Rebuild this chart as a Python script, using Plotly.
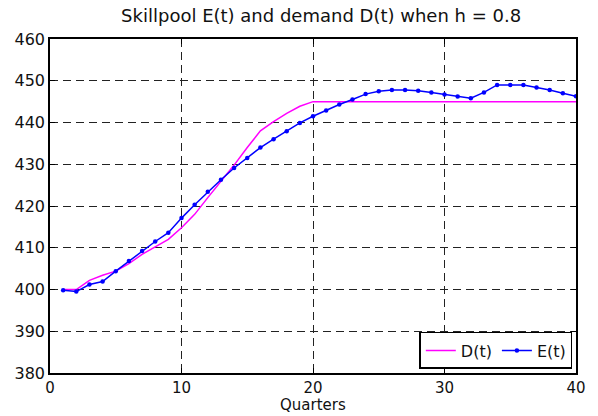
import plotly.graph_objects as go

# Data
quarters = list(range(1, 41))
demand_D = [400.0, 400.0, 402.2, 403.4, 404.4, 406.2, 408.4, 410.2, 412.0, 414.8,
            418.0, 422.0, 425.8, 429.8, 434.0, 438.0, 440.2, 442.2, 443.9, 445.0,
            445.0, 445.0, 445.0, 445.0, 445.0, 445.0, 445.0, 445.0, 445.0, 445.0,
            445.0, 445.0, 445.0, 445.0, 445.0, 445.0, 445.0, 445.0, 445.0, 445.0]
skillpool_E = [399.8, 399.5, 401.2, 401.9, 404.4, 406.8, 409.2, 411.5, 413.6, 417.1,
               420.3, 423.4, 426.3, 429.1, 431.5, 434.0, 436.0, 437.9, 439.9, 441.5,
               442.9, 444.3, 445.5, 446.8, 447.5, 447.8, 447.8, 447.6, 447.2, 446.7,
               446.2, 445.8, 447.2, 449.0, 449.0, 449.0, 448.4, 447.8, 447.0, 446.3]

x_ticks = [0, 10, 20, 30, 40]
y_ticks = [380, 390, 400, 410, 420, 430, 440, 450, 460]

FONT = "DejaVu Sans"

fig = go.Figure()
fig.add_trace(go.Scatter(
    x=quarters, y=demand_D, mode="lines", name="D(t)",
    line=dict(color="#FF00FF", width=1.5),
))
fig.add_trace(go.Scatter(
    x=quarters, y=skillpool_E, mode="lines+markers", name="E(t)",
    line=dict(color="#0000FF", width=1.5),
    marker=dict(color="#0000FF", size=4.5),
))

axis_common = dict(
    showline=True, linecolor="black", linewidth=1.5, mirror="ticks",
    ticks="inside", ticklen=5, tickwidth=1, tickcolor="black",
    showgrid=True, gridcolor="#222222", gridwidth=1, griddash="8px,5px",
    zeroline=False,
)

fig.update_layout(
    width=598, height=416,
    margin=dict(l=50, r=15, t=39, b=43),
    paper_bgcolor="white", plot_bgcolor="white",
    font=dict(family=FONT, size=16, color="#111111"),
    title=dict(text="Skillpool E(t) and demand D(t) when h = 0.8",
               x=0.537, xref="container", xanchor="center",
               y=0.962, yref="container", yanchor="middle",
               font=dict(family=FONT, size=18, color="#111111")),
    xaxis=dict(range=[0, 40], tickvals=x_ticks, ticklabelstandoff=0,
               tickfont=dict(family=FONT, size=15, color="#111111"), **axis_common),
    yaxis=dict(range=[380, 460], tickvals=y_ticks,
               tickfont=dict(family=FONT, size=16, color="#111111"), **axis_common),
    legend=dict(orientation="h", x=0.993, y=0.012, xanchor="right", yanchor="bottom",
                bgcolor="white", bordercolor="black", borderwidth=1.5,
                font=dict(family=FONT, size=16, color="#111111"),
                itemwidth=30, tracegroupgap=0, valign="middle"),
    showlegend=True,
    annotations=[dict(text="Quarters", xref="paper", yref="paper",
                      x=0.5, y=-0.129, xanchor="center", yanchor="bottom",
                      showarrow=False,
                      font=dict(family=FONT, size=15, color="#111111"))],
)

fig.write_html(
    "out.html",
    config={"displayModeBar": False},
    post_script="document.body.style.margin='0';document.body.style.padding='0';"
                "document.documentElement.style.overflow='hidden';",
)
